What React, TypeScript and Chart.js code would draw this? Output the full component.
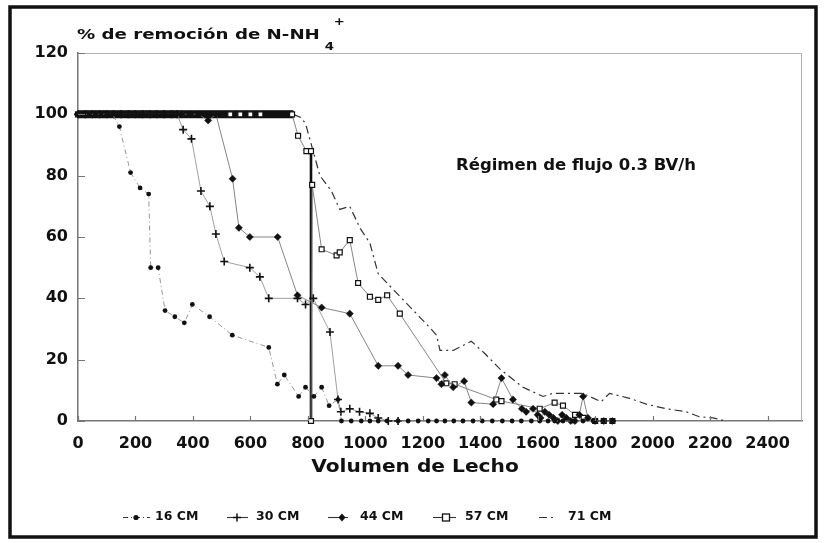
import React, { useEffect, useRef } from "react";
import { Chart, registerables } from "chart.js";

Chart.register(...registerables);

const FONT = '"DejaVu Sans", "Liberation Sans", sans-serif';
const INK = "#111";

// ---- text ----
const titleMain = "% de remoción de N-NH";
const titleSub = "4";
const titleSup = "+";
const xAxisTitle = "Volumen de Lecho";
const noteText = "Régimen de flujo 0.3 BV/h";
const seriesLabels = ["16 CM", "30 CM", "44 CM", "57 CM", "71 CM"];

// ---- ticks ----
const xTickValues = [0, 200, 400, 600, 800, 1000, 1200, 1400, 1600, 1800, 2000, 2200, 2400];
const yTickValues = [0, 20, 40, 60, 80, 100, 120];

// ---- series (x = bed volumes, y = % removal) ----
const cm16X = [0, 20, 40, 60, 80, 100, 120, 144, 183, 216, 246, 253, 279, 303, 337, 370, 398, 458, 537, 664, 694, 718, 768, 792, 821, 848, 874, 905, 917, 951, 986, 1016, 1045, 1076, 1114, 1149, 1184, 1219, 1248, 1277, 1308, 1340, 1375, 1407, 1442, 1477, 1511, 1543, 1578, 1607, 1636, 1659, 1688, 1723, 1758, 1793, 1828, 1862];
const cm16Y = [100, 100, 100, 100, 100, 100, 100, 96, 81, 76, 74, 50, 50, 36, 34, 32, 38, 34, 28, 24, 12, 15, 8, 11, 8, 11, 5, 7, 0, 0, 0, 0, 0, 0, 0, 0, 0, 0, 0, 0, 0, 0, 0, 0, 0, 0, 0, 0, 0, 0, 0, 0, 0, 0, 0, 0, 0, 0];

const cm30X = [0, 25, 50, 75, 100, 125, 150, 175, 200, 225, 250, 275, 300, 325, 345, 366, 395, 428, 459, 480, 509, 598, 633, 664, 764, 792, 819, 877, 905, 915, 946, 980, 1016, 1045, 1080, 1114];
const cm30Y = [100, 100, 100, 100, 100, 100, 100, 100, 100, 100, 100, 100, 100, 100, 100, 95, 92, 75, 70, 61, 52, 50, 47, 40, 40, 38, 40, 29, 7, 3, 4, 3, 2.5, 1, 0, 0];

const cm44X = [0, 30, 60, 90, 120, 150, 180, 210, 240, 270, 300, 330, 360, 390, 420, 453, 480, 538, 560, 598, 695, 764, 848, 946, 1045, 1114, 1149, 1248, 1265, 1277, 1306, 1344, 1369, 1445, 1474, 1514, 1545, 1560, 1584, 1600, 1610, 1625, 1640, 1655, 1670, 1685, 1700, 1715, 1730, 1745, 1758, 1775, 1800, 1830, 1860];
const cm44Y = [100, 100, 100, 100, 100, 100, 100, 100, 100, 100, 100, 100, 100, 100, 100, 98, 100, 79, 63, 60, 60, 41, 37, 35, 18, 18, 15, 14, 12, 15, 11, 13, 6, 5.5, 14, 7, 4, 3, 4, 2, 1, 3, 2, 1, 0, 2, 1, 0, 0, 2, 8, 1, 0, 0, 0];

const cm57X = [0, 120, 240, 360, 480, 530, 565, 600, 635, 745, 766, 795, 811, 811, 815, 848, 900, 911, 946, 975, 1016, 1045, 1076, 1120, 1282, 1311, 1456, 1474, 1607, 1659, 1688, 1730, 1760, 1800, 1830, 1860];
const cm57Y = [100, 100, 100, 100, 100, 100, 100, 100, 100, 100, 93, 88, 88, 0, 77, 56, 54, 55, 59, 45, 40.5, 39.5, 41, 35, 12.3, 12, 7, 6.5, 4, 6, 5, 2, 1, 0, 0, 0];

const cm71X = [0, 100, 200, 300, 400, 500, 600, 700, 750, 775, 792, 842, 882, 911, 946, 981, 1016, 1045, 1219, 1248, 1260, 1306, 1369, 1416, 1468, 1549, 1619, 1652, 1757, 1821, 1850, 1920, 1978, 2048, 2117, 2163, 2210, 2256];
const cm71Y = [100, 100, 100, 100, 100, 100, 100, 100, 100, 99, 97, 80, 75, 69, 70, 63, 58, 48, 31, 28, 23, 23, 26, 22, 17, 11, 8, 9, 9, 6.3, 9, 7.4, 5.5, 4, 3, 1.4, 1, 0];

const toPoints = (xs: number[], ys: number[]) => xs.map((x, i) => ({ x, y: ys[i] }));

const isFlatTop = (c: any) => c.p0.parsed.y === 100 && c.p1.parsed.y === 100;
const isVertical = (c: any) => c.p0.parsed.x === c.p1.parsed.x;

function drawWide(ctx: CanvasRenderingContext2D, text: string, x: number, y: number, sx: number, align: CanvasTextAlign) {
  const w = ctx.measureText(text).width * sx;
  ctx.save();
  ctx.translate(x, y);
  ctx.scale(sx, 1);
  ctx.textAlign = align;
  ctx.fillText(text, 0, 0);
  ctx.restore();
  return w;
}

const legendLayout = [
  { from: 123, to: 150, mk: 136, tx: 155 },
  { from: 227, to: 248, mk: 237, tx: 256 },
  { from: 328, to: 348, mk: 342, tx: 360 },
  { from: 433, to: 456, mk: 446, tx: 465 },
  { from: 539, to: 557, mk: -1, tx: 568 },
];

const decorPlugin = {
  id: "decor",
  beforeDraw(chart: any) {
    const { ctx, width, height } = chart;
    ctx.save();
    ctx.fillStyle = "#fff";
    ctx.fillRect(0, 0, width, height);
    ctx.restore();
  },
  afterDraw(chart: any) {
    const ctx: CanvasRenderingContext2D = chart.ctx;
    const { left, right, top, bottom } = chart.chartArea;
    const xs = chart.scales.x;
    const ys = chart.scales.y;
    ctx.save();

    // outer frame
    ctx.strokeStyle = INK;
    ctx.lineWidth = 3.5;
    ctx.strokeRect(10, 7, 806, 530);

    // plot box top / right (faint)
    ctx.strokeStyle = "#b0b0b0";
    ctx.lineWidth = 1;
    ctx.beginPath();
    ctx.moveTo(left, top + 0.5);
    ctx.lineTo(right, top + 0.5);
    ctx.moveTo(right - 0.5, top);
    ctx.lineTo(right - 0.5, bottom);
    ctx.stroke();

    // inward tick marks
    ctx.strokeStyle = "#777";
    ctx.lineWidth = 1.2;
    ctx.beginPath();
    yTickValues.forEach((v) => {
      const p = Math.round(ys.getPixelForValue(v)) + 0.5;
      ctx.moveTo(left, p);
      ctx.lineTo(left + 7, p);
    });
    xTickValues.forEach((v) => {
      const p = Math.round(xs.getPixelForValue(v)) + 0.5;
      ctx.moveTo(p, bottom);
      ctx.lineTo(p, bottom - 5);
    });
    ctx.stroke();

    // title
    ctx.fillStyle = INK;
    ctx.textBaseline = "alphabetic";
    ctx.font = `bold 14px ${FONT}`;
    const tw = drawWide(ctx, titleMain, 77, 39, 1.3, "left");
    ctx.font = `bold 11px ${FONT}`;
    drawWide(ctx, titleSub, 77 + tw + 5, 50, 1.2, "left");
    drawWide(ctx, titleSup, 77 + tw + 14, 25, 1.2, "left");

    // note
    ctx.font = `bold 15px ${FONT}`;
    drawWide(ctx, noteText, 456, 170, 1.1, "left");

    // x axis title
    ctx.font = `bold 18px ${FONT}`;
    ctx.textBaseline = "middle";
    drawWide(ctx, xAxisTitle, 415, 467, 1.12, "center");

    // legend
    const ly = 517;
    const dsets = chart.data.datasets;
    legendLayout.forEach((it, i) => {
      const ds = dsets[i];
      ctx.save();
      ctx.strokeStyle = "#333";
      ctx.lineWidth = 1.1;
      ctx.setLineDash(ds.borderDash || []);
      ctx.beginPath();
      ctx.moveTo(it.from, ly + 0.5);
      ctx.lineTo(it.to, ly + 0.5);
      ctx.stroke();
      ctx.setLineDash([]);
      const m = it.mk;
      ctx.fillStyle = INK;
      ctx.strokeStyle = INK;
      if (ds.pointStyle === "circle") {
        ctx.beginPath();
        ctx.arc(m, ly + 0.5, 2.6, 0, Math.PI * 2);
        ctx.fill();
      } else if (ds.pointStyle === "cross") {
        ctx.lineWidth = 1.5;
        ctx.beginPath();
        ctx.moveTo(m - 4, ly + 0.5);
        ctx.lineTo(m + 4, ly + 0.5);
        ctx.moveTo(m, ly - 3.5);
        ctx.lineTo(m, ly + 4.5);
        ctx.stroke();
      } else if (ds.pointStyle === "rectRot") {
        ctx.beginPath();
        ctx.moveTo(m, ly - 3.5);
        ctx.lineTo(m + 3.5, ly + 0.5);
        ctx.lineTo(m, ly + 4.5);
        ctx.lineTo(m - 3.5, ly + 0.5);
        ctx.closePath();
        ctx.fill();
      } else if (ds.pointStyle === "rect" && m > 0) {
        ctx.fillStyle = "#fff";
        ctx.lineWidth = 1.3;
        ctx.fillRect(m - 3.5, ly - 3, 7, 7);
        ctx.strokeRect(m - 3.5, ly - 3, 7, 7);
      }
      ctx.fillStyle = INK;
      ctx.font = `bold 12.5px ${FONT}`;
      ctx.textAlign = "left";
      ctx.textBaseline = "middle";
      ctx.fillText(seriesLabels[i], it.tx, ly);
      ctx.restore();
    });

    ctx.restore();
  },
};

export default function App() {
  const ref = useRef<HTMLCanvasElement>(null);

  useEffect(() => {
    if (!ref.current) return;
    const tickFont = { family: FONT, size: 16, weight: "bold" as const };
    const chart = new Chart(ref.current, {
      type: "scatter",
      data: {
        datasets: [
          {
            label: seriesLabels[0],
            data: toPoints(cm16X, cm16Y),
            showLine: true,
            borderColor: "#8a8a8a",
            borderWidth: 0.9,
            borderDash: [5, 3, 1, 3],
            pointStyle: "circle",
            pointRadius: 2.4,
            pointBackgroundColor: INK,
            pointBorderColor: INK,
            pointBorderWidth: 0,
            clip: false,
          },
          {
            label: seriesLabels[1],
            data: toPoints(cm30X, cm30Y),
            showLine: true,
            borderColor: "#888",
            borderWidth: 0.8,
            pointStyle: "cross",
            pointRadius: 4,
            pointBorderColor: INK,
            pointBorderWidth: 1.6,
            clip: false,
          },
          {
            label: seriesLabels[2],
            data: toPoints(cm44X, cm44Y),
            showLine: true,
            borderColor: "#777",
            borderWidth: 0.9,
            pointStyle: "rectRot",
            pointRadius: 3.6,
            pointBackgroundColor: INK,
            pointBorderColor: INK,
            pointBorderWidth: 0.5,
            clip: false,
          },
          {
            label: seriesLabels[3],
            data: toPoints(cm57X, cm57Y),
            showLine: true,
            borderColor: "#777",
            borderWidth: 0.9,
            segment: {
              borderWidth: (c: any) => (isVertical(c) ? 2.6 : isFlatTop(c) ? 7 : 0.9),
              borderColor: (c: any) => (isVertical(c) || isFlatTop(c) ? INK : "#777"),
            },
            pointStyle: "rect",
            pointRadius: 3.5,
            pointBackgroundColor: "#fff",
            pointBorderColor: INK,
            pointBorderWidth: 1.2,
            clip: false,
          },
          {
            label: seriesLabels[4],
            data: toPoints(cm71X, cm71Y),
            showLine: true,
            borderColor: "#333",
            borderWidth: 1.2,
            borderDash: [8, 4, 2, 4],
            segment: {
              borderWidth: (c: any) => (isFlatTop(c) ? 8 : 1.2),
              borderDash: (c: any) => (isFlatTop(c) ? [] : [8, 4, 2, 4]),
              borderColor: (c: any) => (isFlatTop(c) ? INK : "#333"),
            },
            pointRadius: 0,
            clip: false,
          },
        ],
      },
      options: {
        responsive: false,
        animation: false,
        devicePixelRatio: 1,
        events: [],
        layout: { padding: { left: 0, right: 23, top: 53, bottom: 0 } },
        plugins: { legend: { display: false }, tooltip: { enabled: false }, title: { display: false } },
        scales: {
          x: {
            type: "linear",
            min: 0,
            max: 2520,
            afterBuildTicks: (s: any) => {
              s.ticks = xTickValues.map((v) => ({ value: v }));
            },
            afterFit: (s: any) => {
              s.height = 122;
            },
            ticks: {
              font: tickFont,
              color: INK,
              padding: 13,
              maxRotation: 0,
              autoSkip: false,
              callback: (v: any) => String(v),
            },
            grid: { display: false, drawTicks: false },
            border: { display: true, color: "#777", width: 1.5 },
          },
          y: {
            type: "linear",
            min: 0,
            max: 120,
            afterBuildTicks: (s: any) => {
              s.ticks = yTickValues.map((v) => ({ value: v }));
            },
            afterFit: (s: any) => {
              s.width = 78;
            },
            ticks: {
              font: tickFont,
              color: INK,
              padding: 10,
              callback: (v: any) => String(v),
            },
            grid: { display: false, drawTicks: false },
            border: { display: true, color: "#777", width: 1.5 },
          },
        },
      },
      plugins: [decorPlugin],
    } as any);
    return () => chart.destroy();
  }, []);

  return (
    <div style={{ position: "fixed", left: 0, top: 0, width: 825, height: 543, background: "#fff" }}>
      <canvas ref={ref} width={825} height={543} style={{ display: "block", width: 825, height: 543 }} />
    </div>
  );
}
